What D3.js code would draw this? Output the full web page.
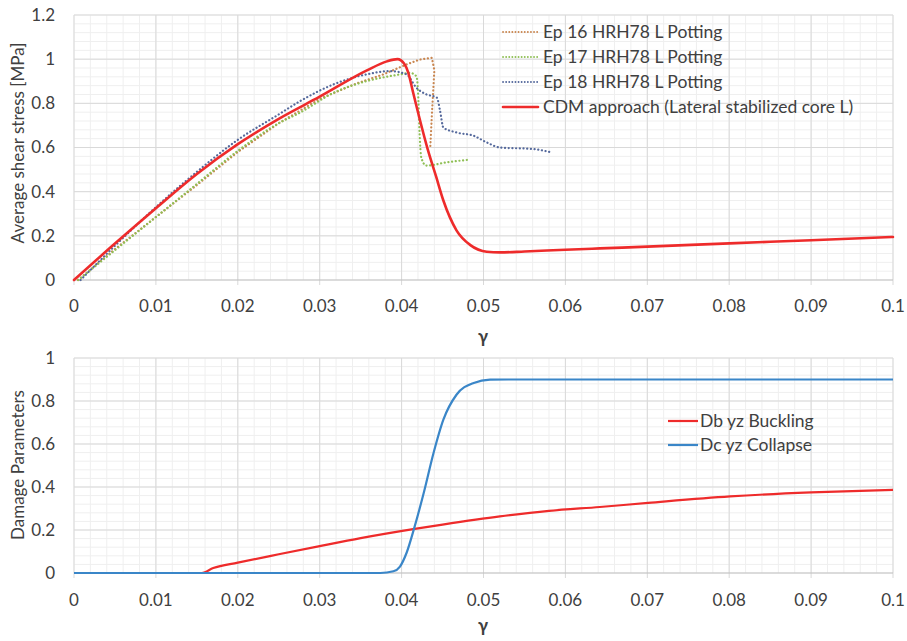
<!DOCTYPE html>
<html>
<head>
<meta charset="utf-8">
<script src="https://cdn.jsdelivr.net/npm/d3@7"></script>
<style>
  body { margin: 0; background: #fff; }
  text { font-family: Lato, "Open Sans", sans-serif; fill: #404040; }
</style>
</head>
<body>
<div id="chart-container"></div>
<script>
// ---- data ----
// top panel: average shear stress vs gamma
var ep16X = [0.0005, 0.005, 0.01, 0.015, 0.02, 0.025, 0.03, 0.0345, 0.0377, 0.0406, 0.0422, 0.0437, 0.0440, 0.0437, 0.0435];
var ep16Y = [0, 0.14, 0.285, 0.43, 0.58, 0.71, 0.82, 0.89, 0.93, 0.976, 0.998, 1.006, 0.95, 0.75, 0.60];

var ep17X = [0.0005, 0.005, 0.01, 0.015, 0.02, 0.025, 0.0276, 0.0317, 0.0357, 0.0398, 0.041, 0.0418, 0.0420, 0.0422, 0.0424, 0.0430, 0.0455, 0.0481];
var ep17Y = [0, 0.135, 0.285, 0.435, 0.585, 0.71, 0.758, 0.848, 0.90, 0.931, 0.938, 0.923, 0.856, 0.66, 0.555, 0.518, 0.533, 0.544];

var ep18X = [0.0008, 0.005, 0.01, 0.015, 0.02, 0.025, 0.0276, 0.0317, 0.0357, 0.0386, 0.0406, 0.0418, 0.0430, 0.0443, 0.0447, 0.0451, 0.0467, 0.0488, 0.0504, 0.052, 0.0561, 0.0583];
var ep18Y = [0, 0.155, 0.33, 0.49, 0.635, 0.75, 0.81, 0.886, 0.931, 0.946, 0.931, 0.871, 0.841, 0.826, 0.766, 0.69, 0.668, 0.653, 0.623, 0.60, 0.593, 0.578];

var cdmX = [0, 0.005, 0.01, 0.015, 0.02, 0.025, 0.03, 0.0357, 0.0382, 0.0395, 0.0403, 0.0408, 0.0414, 0.0422, 0.0432, 0.0442, 0.0451, 0.0467, 0.0484, 0.0504, 0.052, 0.055, 0.06, 0.0642, 0.07, 0.08, 0.09, 0.1];
var cdmY = [0, 0.165, 0.325, 0.48, 0.615, 0.73, 0.83, 0.948, 0.99, 1.0, 0.98, 0.94, 0.85, 0.73, 0.59, 0.47, 0.36, 0.225, 0.158, 0.128, 0.125, 0.129, 0.137, 0.143, 0.151, 0.166, 0.180, 0.195];

// bottom panel: damage parameters vs gamma
var dbX = [0, 0.0156, 0.017, 0.02, 0.025, 0.03, 0.035, 0.0416, 0.045, 0.052, 0.058, 0.0642, 0.0701, 0.0801, 0.09, 0.1];
var dbY = [0, 0, 0.023, 0.048, 0.087, 0.125, 0.162, 0.205, 0.225, 0.263, 0.289, 0.307, 0.326, 0.356, 0.375, 0.387];

var dcX = [0, 0.0374, 0.039, 0.0398, 0.0406, 0.0416, 0.0427, 0.0439, 0.0451, 0.0467, 0.0488, 0.0508, 0.053, 0.1];
var dcY = [0, 0, 0.008, 0.03, 0.093, 0.217, 0.372, 0.558, 0.713, 0.829, 0.884, 0.899, 0.9, 0.9];

var xTicks = [0, 0.01, 0.02, 0.03, 0.04, 0.05, 0.06, 0.07, 0.08, 0.09, 0.1];
var topYTicks = [0, 0.2, 0.4, 0.6, 0.8, 1, 1.2];
var botYTicks = [0, 0.2, 0.4, 0.6, 0.8, 1];

var topLegend = ["Ep 16 HRH78 L Potting", "Ep 17 HRH78 L Potting", "Ep 18 HRH78 L Potting", "CDM approach (Lateral stabilized core L)"];
var botLegend = ["Db yz Buckling", "Dc yz Collapse"];

function zip(xs, ys) {
    return xs.map(function(x, i) { return {x: x, y: ys[i]}; });
}

var svg = d3.select("#chart-container")
    .append("svg")
    .attr("width", 907)
    .attr("height", 641);

var xScale = d3.scaleLinear().domain([0, 0.1]).range([74, 893]);

// draws grid + tick labels for one panel, returns its y scale
function drawPanel(yMax, top, bottom, yTicks, yTitle, titleY, labelY, gammaY) {
    var yScale = d3.scaleLinear().domain([0, yMax]).range([bottom, top]);
    var g = svg.append("g");

    // minor grid
    var minorX = d3.range(0, 0.1001, 0.002);
    var minorY = d3.range(0, yMax + 0.001, 0.04);
    g.selectAll(".mx").data(minorX).enter().append("line")
        .attr("x1", function(d) { return xScale(d); }).attr("x2", function(d) { return xScale(d); })
        .attr("y1", top).attr("y2", bottom)
        .attr("stroke", "#efefef").attr("stroke-width", 1);
    g.selectAll(".my").data(minorY).enter().append("line")
        .attr("x1", 74).attr("x2", 893)
        .attr("y1", function(d) { return yScale(d); }).attr("y2", function(d) { return yScale(d); })
        .attr("stroke", "#efefef").attr("stroke-width", 1);

    // major grid
    g.selectAll(".gx").data(xTicks).enter().append("line")
        .attr("x1", function(d) { return xScale(d); }).attr("x2", function(d) { return xScale(d); })
        .attr("y1", top).attr("y2", bottom + 5)
        .attr("stroke", "#d9d9d9").attr("stroke-width", 1);
    g.selectAll(".gy").data(yTicks).enter().append("line")
        .attr("x1", 74).attr("x2", 893)
        .attr("y1", function(d) { return yScale(d); }).attr("y2", function(d) { return yScale(d); })
        .attr("stroke", function(d) { return d === 0 ? "#bfbfbf" : "#d9d9d9"; })
        .attr("stroke-width", 1);

    // tick labels
    g.selectAll(".lx").data(xTicks).enter().append("text")
        .attr("x", function(d) { return xScale(d); })
        .attr("y", labelY)
        .attr("text-anchor", "middle")
        .style("font-size", "17px")
        .text(function(d) { return d3.format("~g")(d); });
    g.selectAll(".ly").data(yTicks).enter().append("text")
        .attr("x", 55)
        .attr("y", function(d) { return yScale(d); })
        .attr("dy", "0.35em")
        .attr("text-anchor", "end")
        .style("font-size", "17px")
        .text(function(d) { return d3.format("~g")(d); });

    // axis titles
    g.append("text")
        .attr("transform", "translate(18," + titleY + ") rotate(-90)")
        .attr("text-anchor", "middle")
        .attr("dy", "0.35em")
        .style("font-size", "17px")
        .text(yTitle);
    g.append("text")
        .attr("x", 483)
        .attr("y", gammaY)
        .attr("text-anchor", "middle")
        .style("font-size", "18px")
        .style("font-weight", "bold")
        .text("\u03b3");

    return yScale;
}

var yTop = drawPanel(1.2, 15, 280, topYTicks, "Average shear stress [MPa]", 143, 312, 343);
var yBot = drawPanel(1, 358, 573, botYTicks, "Damage Parameters", 465, 606, 632);

function lineFor(yScale, curve) {
    return d3.line()
        .x(function(d) { return xScale(d.x); })
        .y(function(d) { return yScale(d.y); })
        .curve(curve);
}

var dotted = "0.1,3.6";

var topSeries = [
    {pts: zip(ep16X, ep16Y), color: "#c98650", dash: dotted, w: 2.2, curve: d3.curveLinear},
    {pts: zip(ep17X, ep17Y), color: "#8fbf55", dash: dotted, w: 2.2, curve: d3.curveMonotoneX},
    {pts: zip(ep18X, ep18Y), color: "#55699c", dash: dotted, w: 2.2, curve: d3.curveMonotoneX},
    {pts: zip(cdmX, cdmY), color: "#ee2b2b", dash: null, w: 2.6, curve: d3.curveMonotoneX}
];

topSeries.forEach(function(s) {
    svg.append("path")
        .datum(s.pts)
        .attr("fill", "none")
        .attr("stroke", s.color)
        .attr("stroke-width", s.w)
        .attr("stroke-linecap", "round")
        .attr("stroke-linejoin", "round")
        .attr("stroke-dasharray", s.dash)
        .attr("d", lineFor(yTop, s.curve));
});

var botSeries = [
    {pts: zip(dbX, dbY), color: "#ee2b2b"},
    {pts: zip(dcX, dcY), color: "#3a86c8"}
];

botSeries.forEach(function(s) {
    svg.append("path")
        .datum(s.pts)
        .attr("fill", "none")
        .attr("stroke", s.color)
        .attr("stroke-width", 2.2)
        .attr("d", lineFor(yBot, d3.curveMonotoneX));
});

// legends
var legTop = svg.append("g").attr("transform", "translate(503,32)");
topLegend.forEach(function(name, i) {
    var s = topSeries[i];
    legTop.append("line")
        .attr("x1", 0).attr("x2", 35)
        .attr("y1", i * 25).attr("y2", i * 25)
        .attr("stroke", s.color)
        .attr("stroke-width", s.dash ? 1.8 : 2.6)
        .attr("stroke-linecap", "round")
        .attr("stroke-dasharray", s.dash ? "0.1,3" : null);
    legTop.append("text")
        .attr("x", 40)
        .attr("y", i * 25)
        .attr("dy", "0.35em")
        .style("font-size", "17.5px")
        .text(name);
});

var legBot = svg.append("g").attr("transform", "translate(668,421)");
botLegend.forEach(function(name, i) {
    legBot.append("line")
        .attr("x1", 0).attr("x2", 30)
        .attr("y1", i * 24).attr("y2", i * 24)
        .attr("stroke", botSeries[i].color)
        .attr("stroke-width", 2.2);
    legBot.append("text")
        .attr("x", 32)
        .attr("y", i * 24)
        .attr("dy", "0.35em")
        .style("font-size", "17.5px")
        .text(name);
});
</script>
</body>
</html>
